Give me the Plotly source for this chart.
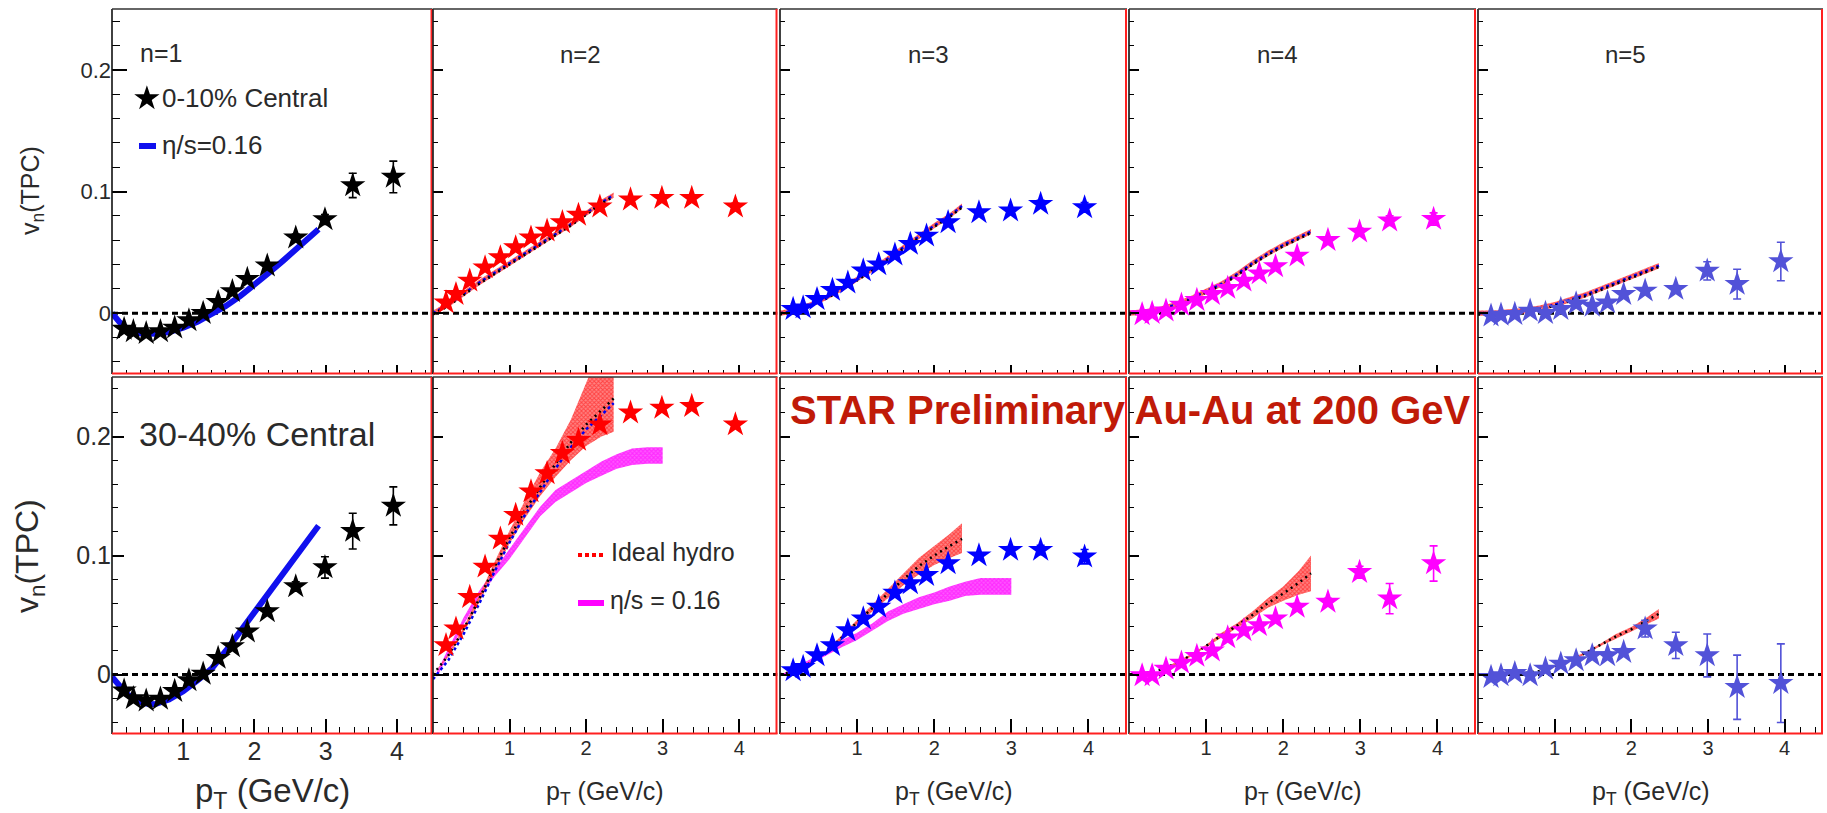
import plotly.graph_objects as go

# ---------------- data ----------------
pt_data = [0.17, 0.30, 0.48, 0.68, 0.88, 1.08, 1.28, 1.49, 1.69, 1.90, 2.18, 2.58, 2.99, 3.38, 3.95]

# 0-10% central
v1_c = [-0.013, -0.015, -0.0165, -0.015, -0.012, -0.006, 0.000, 0.009, 0.018, 0.028, 0.039, 0.062, 0.077, 0.105, 0.112]
e1_c = [0.001, 0.001, 0.001, 0.001, 0.001, 0.001, 0.001, 0.001, 0.001, 0.002, 0.002, 0.003, 0.004, 0.010, 0.013]
v2_c = [0.0087, 0.0156, 0.0266, 0.0375, 0.0458, 0.054, 0.062, 0.0677, 0.0746, 0.0807, 0.0875, 0.0933, 0.0946, 0.0946, 0.0875]
e2_c = [0.001, 0.001, 0.001, 0.001, 0.001, 0.001, 0.001, 0.001, 0.001, 0.001, 0.001, 0.001, 0.002, 0.002, 0.003]
v3_c = [0.0033, 0.0046, 0.0115, 0.019, 0.025, 0.035, 0.040, 0.048, 0.0568, 0.0636, 0.0746, 0.0828, 0.0842, 0.0897, 0.0869]
e3_c = [0.001, 0.001, 0.001, 0.001, 0.001, 0.001, 0.001, 0.001, 0.001, 0.001, 0.001, 0.002, 0.002, 0.003, 0.004]
v4_c = [-0.001, 0.0, 0.002, 0.0068, 0.0107, 0.0156, 0.0206, 0.0266, 0.0326, 0.0384, 0.0472, 0.060, 0.0669, 0.076, 0.0774]
e4_c = [0.001, 0.001, 0.001, 0.001, 0.001, 0.001, 0.001, 0.001, 0.001, 0.001, 0.002, 0.002, 0.003, 0.004, 0.005]
v5_c = [-0.0022, -0.0014, -0.0008, 0.0019, 0.0, 0.0033, 0.0079, 0.006, 0.0087, 0.0156, 0.0184, 0.0198, 0.0348, 0.0239, 0.0425]
e5_c = [0.001, 0.001, 0.001, 0.001, 0.001, 0.001, 0.001, 0.001, 0.002, 0.002, 0.002, 0.003, 0.0075, 0.0122, 0.0158]

# 30-40% central
v1_p = [-0.0135, -0.020, -0.022, -0.0205, -0.014, -0.005, 0.0005, 0.0138, 0.0236, 0.036, 0.053, 0.074, 0.090, 0.1205, 0.1417]
e1_p = [0.001, 0.001, 0.001, 0.001, 0.001, 0.001, 0.001, 0.001, 0.002, 0.002, 0.003, 0.004, 0.009, 0.015, 0.016]
v2_p = [0.0245, 0.0385, 0.065, 0.0905, 0.114, 0.134, 0.1537, 0.169, 0.186, 0.197, 0.210, 0.220, 0.224, 0.2255, 0.210]
e2_p = [0.001, 0.001, 0.001, 0.001, 0.001, 0.001, 0.001, 0.001, 0.001, 0.001, 0.002, 0.002, 0.002, 0.003, 0.003]
v3_p = [0.0034, 0.0062, 0.016, 0.0245, 0.037, 0.047, 0.0568, 0.0686, 0.0765, 0.0835, 0.0933, 0.100, 0.1046, 0.1046, 0.099]
e3_p = [0.001, 0.001, 0.001, 0.001, 0.001, 0.001, 0.001, 0.001, 0.001, 0.002, 0.002, 0.002, 0.003, 0.004, 0.006]
v4_p = [-0.0008, -0.0008, 0.0048, 0.0098, 0.0155, 0.020, 0.031, 0.037, 0.0413, 0.047, 0.0568, 0.061, 0.086, 0.0638, 0.0933]
e4_p = [0.001, 0.001, 0.001, 0.001, 0.001, 0.001, 0.001, 0.002, 0.002, 0.002, 0.003, 0.003, 0.005, 0.0127, 0.0148]
v5_p = [-0.0022, -0.0008, 0.0011, -0.0008, 0.0048, 0.009, 0.0118, 0.016, 0.016, 0.0188, 0.0385, 0.0245, 0.016, -0.0107, -0.0073]
e5_p = [0.001, 0.001, 0.001, 0.001, 0.001, 0.001, 0.002, 0.002, 0.003, 0.003, 0.007, 0.011, 0.018, 0.027, 0.033]

# viscous hydro (eta/s = 0.16) for n=1
pt_visc1 = [0, 0.1, 0.2, 0.3, 0.4, 0.5, 0.6, 0.8, 1.0, 1.2, 1.4, 1.6, 1.8, 2.0, 2.2, 2.4, 2.6, 2.8, 2.9]
visc1_c = [0, -0.007, -0.012, -0.015, -0.0165, -0.017, -0.017, -0.0155, -0.012, -0.007, -0.001, 0.006, 0.014, 0.023, 0.033, 0.043, 0.053, 0.064, 0.069]
visc1_p = [-0.002, -0.010, -0.016, -0.020, -0.023, -0.0245, -0.025, -0.021, -0.014, -0.005, 0.005, 0.020, 0.036, 0.052, 0.068, 0.084, 0.100, 0.116, 0.125]

# hydro curves, n=2..5
pt_hydro = [0, 0.2, 0.4, 0.6, 0.8, 1.0, 1.2, 1.4, 1.6, 1.8, 2.0, 2.2, 2.36]
h2_c = [0, 0.007, 0.016, 0.025, 0.033, 0.041, 0.049, 0.057, 0.065, 0.073, 0.082, 0.091, 0.097]
h3_c = [0, 0.002, 0.007, 0.013, 0.020, 0.028, 0.036, 0.045, 0.054, 0.063, 0.072, 0.080, 0.088]
h4_c = [0, 0.001, 0.003, 0.007, 0.012, 0.018, 0.024, 0.032, 0.041, 0.049, 0.056, 0.062, 0.067]
h5_c = [0, 0.0, 0.001, 0.002, 0.004, 0.007, 0.011, 0.015, 0.020, 0.025, 0.030, 0.035, 0.039]

ih2_p = [0, 0.016, 0.038, 0.063, 0.090, 0.115, 0.138, 0.158, 0.177, 0.195, 0.210, 0.222, 0.232]
ih2_lo = [0, 0.015, 0.036, 0.060, 0.086, 0.110, 0.131, 0.150, 0.166, 0.180, 0.192, 0.200, 0.204]
ih2_hi = [0, 0.017, 0.040, 0.066, 0.094, 0.121, 0.146, 0.170, 0.190, 0.214, 0.245, 0.275, 0.300]
ih3_p = [0, 0.003, 0.010, 0.019, 0.031, 0.044, 0.056, 0.068, 0.080, 0.091, 0.100, 0.108, 0.114]
ih3_lo = [0, 0.003, 0.009, 0.018, 0.029, 0.042, 0.053, 0.064, 0.075, 0.084, 0.092, 0.098, 0.102]
ih3_hi = [0, 0.003, 0.011, 0.020, 0.033, 0.046, 0.059, 0.072, 0.085, 0.098, 0.108, 0.118, 0.127]
ih4_p = [0, 0.001, 0.004, 0.009, 0.016, 0.024, 0.033, 0.041, 0.050, 0.060, 0.068, 0.077, 0.085]
ih4_lo = [0, 0.001, 0.004, 0.008, 0.015, 0.023, 0.031, 0.039, 0.047, 0.056, 0.062, 0.067, 0.070]
ih4_hi = [0, 0.001, 0.004, 0.010, 0.017, 0.025, 0.035, 0.043, 0.053, 0.064, 0.074, 0.087, 0.100]
ih5_p = [0, 0.0, 0.0, 0.001, 0.003, 0.007, 0.012, 0.018, 0.025, 0.032, 0.038, 0.045, 0.051]
ih5_lo = [0, 0.0, 0.0, 0.001, 0.003, 0.006, 0.011, 0.017, 0.024, 0.030, 0.036, 0.042, 0.047]
ih5_hi = [0, 0.0, 0.0, 0.001, 0.003, 0.008, 0.013, 0.019, 0.026, 0.034, 0.040, 0.048, 0.055]

pt_visc = [0.05, 0.2, 0.4, 0.6, 0.8, 1.0, 1.2, 1.4, 1.6, 1.8, 2.0, 2.2, 2.4, 2.6, 2.8, 3.0]
vis2_p = [0.0, 0.019, 0.045, 0.067, 0.085, 0.101, 0.119, 0.137, 0.150, 0.158, 0.166, 0.173, 0.179, 0.183, 0.184, 0.184]
vis2_hw = [0.002, 0.003, 0.003, 0.003, 0.003, 0.004, 0.004, 0.004, 0.005, 0.005, 0.005, 0.006, 0.006, 0.007, 0.007, 0.007]
vis3_p = [0.0, 0.004, 0.011, 0.018, 0.026, 0.032, 0.040, 0.049, 0.055, 0.060, 0.064, 0.068, 0.072, 0.074, 0.074, 0.074]
vis3_hw = [0.001, 0.002, 0.002, 0.002, 0.003, 0.003, 0.003, 0.004, 0.004, 0.005, 0.005, 0.006, 0.006, 0.007, 0.007, 0.007]

harmonic_labels = ["n=1", "n=2", "n=3", "n=4", "n=5"]
star_colors = ["#000000", "#ff0000", "#0000ff", "#ff00ff", "#5252d8"]
x_ticks = [1, 2, 3, 4]
y_ticks = [0, 0.1, 0.2]
y_ticktext = ["0", "0.1", "0.2"]

# ---------------- layout helpers ----------------
W, H = 1827, 813
FONT = "Liberation Sans, Arial, Helvetica, sans-serif"
TXT = "#2a2a2a"


def fx(p):
    return p / W


def fy(p):
    return 1 - p / H


cols_px = [(112, 432.5), (433, 777.5), (780, 1127), (1129, 1476), (1478, 1823)]
rows_px = [(9, 374), (377, 734)]

central = [(v1_c, e1_c), (v2_c, e2_c), (v3_c, e3_c), (v4_c, e4_c), (v5_c, e5_c)]
peripheral = [(v1_p, e1_p), (v2_p, e2_p), (v3_p, e3_p), (v4_p, e4_p), (v5_p, e5_p)]
hydro_top = [None, h2_c, h3_c, h4_c, h5_c]
hydro_bot = [None, (ih2_p, ih2_lo, ih2_hi), (ih3_p, ih3_lo, ih3_hi), (ih4_p, ih4_lo, ih4_hi), (ih5_p, ih5_lo, ih5_hi)]
visc_bot = [None, (vis2_p, vis2_hw), (vis3_p, vis3_hw), None, None]

x_minor = [round(0.2 * i, 2) for i in range(1, 23)]
y_minor = [round(-0.04 + 0.02 * i, 2) for i in range(0, 15)]

RED_PAT = dict(shape="x", fgcolor="#ff0000", bgcolor="rgba(255,110,110,0.85)", size=3, solidity=0.55)
MAG_PAT = dict(shape="x", fgcolor="#ff00ff", bgcolor="rgba(255,70,255,0.9)", size=3, solidity=0.6)

fig = go.Figure()
layout = dict(width=W, height=H, margin=dict(l=0, r=0, t=0, b=0),
              paper_bgcolor="white", plot_bgcolor="white", showlegend=False,
              font=dict(family=FONT, color=TXT))
shapes = []
annotations = []


def axref(k):
    return ("x", "y") if k == 1 else (f"x{k}", f"y{k}")


for r in range(2):
    for c in range(5):
        k = r * 5 + c + 1
        xr, yr = axref(k)
        x0, x1 = cols_px[c]
        y0, y1 = rows_px[r]
        xkey = "xaxis" if k == 1 else f"xaxis{k}"
        ykey = "yaxis" if k == 1 else f"yaxis{k}"
        xt_len = 9 if r == 0 else 15
        xm_len = 4 if r == 0 else 7
        layout[xkey] = dict(
            domain=[fx(x0), fx(x1)], range=[0, 4.5], anchor=yr,
            showgrid=False, zeroline=False, showline=False,
            ticks="inside", tickmode="array", tickvals=x_ticks,
            ticklen=xt_len, tickwidth=1.5, tickcolor="black",
            showticklabels=(r == 1),
            tickfont=dict(size=25 if c == 0 else 20, color=TXT, family=FONT),
            minor=dict(tickmode="array", tickvals=x_minor, ticks="inside",
                       ticklen=xm_len, tickwidth=1.2, tickcolor="black"),
        )
        yt_len = (15 if r == 0 else 12) if c == 0 else 10
        ym_len = (8 if r == 0 else 6) if c == 0 else 5
        layout[ykey] = dict(
            domain=[fy(y1), fy(y0)], range=[-0.05, 0.25], anchor=xr,
            showgrid=False, zeroline=False, showline=False,
            ticks="inside", tickmode="array", tickvals=y_ticks, ticktext=y_ticktext,
            ticklen=yt_len, tickwidth=1.5, tickcolor="black",
            showticklabels=(c == 0),
            tickfont=dict(size=22 if r == 0 else 25, color=TXT, family=FONT),
            minor=dict(tickmode="array", tickvals=y_minor, ticks="inside",
                       ticklen=ym_len, tickwidth=1.2, tickcolor="black"),
        )

        # zero reference line
        shapes.append(dict(type="line", xref=xr, yref=yr, x0=0, x1=4.5, y0=0, y1=0,
                           line=dict(color="black", width=3, dash="6px,4px"), layer="below"))

        # ---- model curves ----
        if c == 0:
            vis = visc1_c if r == 0 else visc1_p
            fig.add_trace(go.Scatter(x=pt_visc1, y=vis, mode="lines", xaxis=xr, yaxis=yr,
                                     line=dict(color="#1010ee", width=6), hoverinfo="skip"))
        elif r == 0:
            h = hydro_top[c]
            lo = [v - 0.0022 for v in h]
            hi = [v + 0.0022 for v in h]
            fig.add_trace(go.Scatter(x=pt_hydro + pt_hydro[::-1], y=hi + lo[::-1], fill="toself",
                                     mode="lines", line=dict(width=0), xaxis=xr, yaxis=yr,
                                     fillcolor="rgba(255,60,60,0.7)", fillpattern=RED_PAT,
                                     hoverinfo="skip"))
            fig.add_trace(go.Scatter(x=pt_hydro, y=h, mode="lines", xaxis=xr, yaxis=yr,
                                     line=dict(color="#0000ee", width=2.5, dash="dot"), hoverinfo="skip"))
            fig.add_trace(go.Scatter(x=pt_hydro, y=[v - 0.001 for v in h], mode="lines", xaxis=xr, yaxis=yr,
                                     line=dict(color="black", width=2.5, dash="2px,4px"), hoverinfo="skip"))
        else:
            vb = visc_bot[c]
            if vb is not None:
                vc, hw = vb
                lo = [a - b for a, b in zip(vc, hw)]
                hi = [a + b for a, b in zip(vc, hw)]
                fig.add_trace(go.Scatter(x=pt_visc + pt_visc[::-1], y=hi + lo[::-1], fill="toself",
                                         mode="lines", line=dict(width=0), xaxis=xr, yaxis=yr,
                                         fillcolor="rgba(255,0,255,0.85)", fillpattern=MAG_PAT,
                                         hoverinfo="skip"))
            hc, hlo, hhi = hydro_bot[c]
            fig.add_trace(go.Scatter(x=pt_hydro + pt_hydro[::-1], y=hhi + hlo[::-1], fill="toself",
                                     mode="lines", line=dict(width=0),
                                     xaxis=xr, yaxis=yr,
                                     fillcolor="rgba(255,60,60,0.7)", fillpattern=RED_PAT,
                                     hoverinfo="skip"))
            if c == 1:
                fig.add_trace(go.Scatter(x=pt_hydro, y=[v - 0.004 for v in hc], mode="lines", xaxis=xr, yaxis=yr,
                                         line=dict(color="#0000ee", width=2.5, dash="dot"), hoverinfo="skip"))
            fig.add_trace(go.Scatter(x=pt_hydro, y=hc, mode="lines", xaxis=xr, yaxis=yr,
                                     line=dict(color="black", width=2.5, dash="2px,4px"), hoverinfo="skip"))

        # ---- data stars ----
        vals, errs = (central if r == 0 else peripheral)[c]
        col = star_colors[c]
        fig.add_trace(go.Scatter(x=pt_data, y=vals, mode="markers", xaxis=xr, yaxis=yr,
                                 marker=dict(symbol="star", size=19, color=col, line=dict(width=0)),
                                 error_y=dict(type="data", array=errs, color=col, thickness=1.6, width=4),
                                 hoverinfo="skip"))

        # ---- frame ----
        shapes.append(dict(type="line", xref="paper", yref="paper", x0=fx(x0), x1=fx(x0),
                           y0=fy(y0), y1=fy(y1), line=dict(color="#111", width=1.6)))
        shapes.append(dict(type="line", xref="paper", yref="paper", x0=fx(x0), x1=fx(x1),
                           y0=fy(y0), y1=fy(y0), line=dict(color="#333", width=1.6)))
        shapes.append(dict(type="line", xref="paper", yref="paper", x0=fx(x1 - 1), x1=fx(x1 - 1),
                           y0=fy(y0), y1=fy(y1), line=dict(color="#ff2020", width=2)))
        shapes.append(dict(type="line", xref="paper", yref="paper", x0=fx(x0), x1=fx(x1),
                           y0=fy(y1 - 0.5), y1=fy(y1 - 0.5), line=dict(color="#ff2020", width=2)))

        # harmonic label
        if c == 0:
            if r == 0:
                annotations.append(dict(x=fx(138), y=fy(53), xref="paper", yref="paper", text=harmonic_labels[0],
                                        showarrow=False, xanchor="left", yanchor="middle",
                                        font=dict(size=25, color=TXT, family=FONT)))
        else:
            if r == 0:
                cx = x0 + (x1 - x0) * (1.93 / 4.5)
                annotations.append(dict(x=fx(cx), y=fy(55), xref="paper", yref="paper", text=harmonic_labels[c],
                                        showarrow=False, xanchor="center", yanchor="middle",
                                        font=dict(size=24, color=TXT, family=FONT)))
        # x titles
        if r == 1:
            annotations.append(dict(x=fx((x0 + x1) / 2), y=fy(793), xref="paper", yref="paper",
                                    text="p<sub>T</sub> (GeV/c)", showarrow=False,
                                    xanchor="center", yanchor="middle",
                                    font=dict(size=33 if c == 0 else 25, color=TXT, family=FONT)))

# legend glyphs (panel 1, top)
fig.add_trace(go.Scatter(x=[0.49], y=[0.1765], mode="markers", xaxis="x", yaxis="y",
                         marker=dict(symbol="star", size=19, color="black"), hoverinfo="skip"))
annotations.append(dict(x=fx(160), y=fy(98), xref="paper", yref="paper", text="0-10% Central",
                        showarrow=False, xanchor="left", yanchor="middle",
                        font=dict(size=26, color=TXT, family=FONT)))
shapes.append(dict(type="line", xref="paper", yref="paper", x0=fx(139), x1=fx(156), y0=fy(146), y1=fy(146),
                   line=dict(color="#1010ee", width=6)))
annotations.append(dict(x=fx(160), y=fy(145), xref="paper", yref="paper", text="η/s=0.16",
                        showarrow=False, xanchor="left", yanchor="middle",
                        font=dict(size=26, color=TXT, family=FONT)))

# bottom-left label
annotations.append(dict(x=fx(137), y=fy(434), xref="paper", yref="paper", text="30-40% Central",
                        showarrow=False, xanchor="left", yanchor="middle",
                        font=dict(size=34, color=TXT, family=FONT)))

# legend n=2 bottom
shapes.append(dict(type="line", xref="paper", yref="paper", x0=fx(578), x1=fx(604), y0=fy(555), y1=fy(555),
                   line=dict(color="#ff0000", width=4, dash="4px,3px")))
annotations.append(dict(x=fx(609), y=fy(552), xref="paper", yref="paper", text="Ideal hydro",
                        showarrow=False, xanchor="left", yanchor="middle",
                        font=dict(size=25, color=TXT, family=FONT)))
shapes.append(dict(type="line", xref="paper", yref="paper", x0=fx(578), x1=fx(604), y0=fy(603), y1=fy(603),
                   line=dict(color="#ff00ff", width=6)))
annotations.append(dict(x=fx(608), y=fy(600), xref="paper", yref="paper", text="η/s = 0.16",
                        showarrow=False, xanchor="left", yanchor="middle",
                        font=dict(size=25, color=TXT, family=FONT)))

# y titles
annotations.append(dict(x=fx(32), y=fy(191), xref="paper", yref="paper", text="v<sub>n</sub>(TPC)",
                        showarrow=False, textangle=-90, xanchor="center", yanchor="middle",
                        font=dict(size=25, color=TXT, family=FONT)))
annotations.append(dict(x=fx(29), y=fy(556), xref="paper", yref="paper", text="v<sub>n</sub>(TPC)",
                        showarrow=False, textangle=-90, xanchor="center", yanchor="middle",
                        font=dict(size=32, color=TXT, family=FONT)))

# STAR preliminary banner
annotations.append(dict(x=fx(1130), y=fy(410), xref="paper", yref="paper",
                        text="<b>STAR Preliminary Au-Au at 200 GeV</b>",
                        showarrow=False, xanchor="center", yanchor="middle",
                        font=dict(size=40, color="#c01a08", family=FONT)))

layout["shapes"] = shapes
layout["annotations"] = annotations
fig.update_layout(**layout)
fig.write_html("out.html")
